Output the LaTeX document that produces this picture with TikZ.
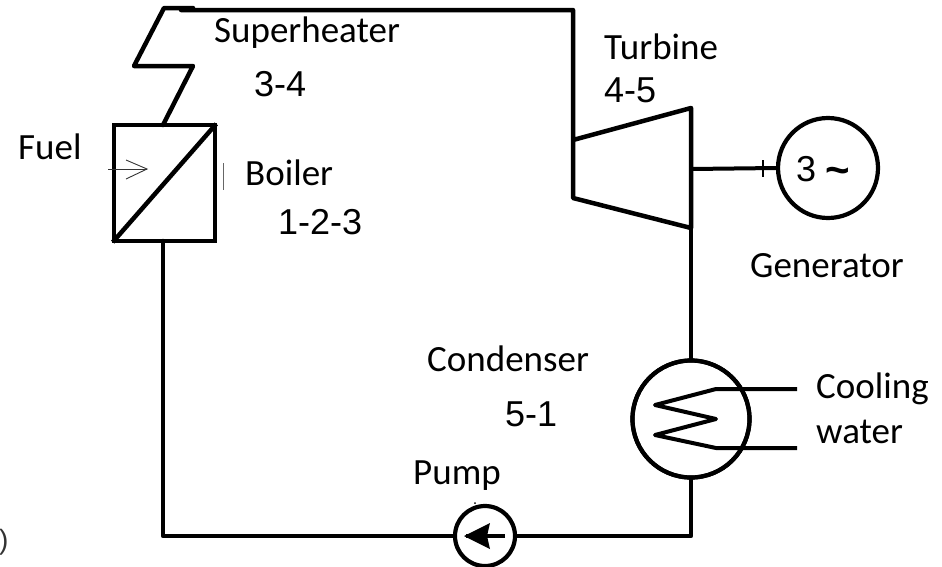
\documentclass[tikz,border=0pt]{standalone}
\usepackage{fontspec}
\setmainfont{Carlito}
\newfontfamily\arial{Liberation Sans}
\usetikzlibrary{arrows.meta}
\tikzset{
  pipe/.style={line width=4.5pt,line cap=round,line join=round},
  thinpipe/.style={line width=4pt,line join=round},
  lbl/.style={inner sep=0pt,font=\fontsize{37}{40}\selectfont,anchor=base west},
  num/.style={inner sep=0pt,font=\arial\fontsize{36}{40}\selectfont,anchor=base west},
  unit/.style={draw,line width=4.2pt,circle,inner sep=0pt,fill=white},
}
\begin{document}
\begin{tikzpicture}[x=1pt,y=-1pt]
\useasboundingbox (0,0) rectangle (942,566);
% coordinates
\coordinate (shA) at (163,125);
\coordinate (shB) at (193,66);
\coordinate (shC) at (134,66);
\coordinate (shD) at (164,8);
\coordinate (shE) at (193,8);
\coordinate (topL) at (181,10);
\coordinate (topR) at (573,10);
\coordinate (tbA) at (573,140);
\coordinate (tbB) at (573,198);
\coordinate (tbC) at (691,108);
\coordinate (tbD) at (691,228);
\coordinate (shaft) at (691,169);
\coordinate (pc) at (691,536);
\coordinate (pl) at (163,536);
\coordinate (cwA) at (797,389);
\coordinate (cwB) at (797,448);
\coordinate (z1) at (716,389);
\coordinate (z2) at (655,405);
\coordinate (z3) at (716,419);
\coordinate (z4) at (655,435);
\coordinate (z5) at (716,448);
% units
\node[draw,line width=4.5pt,minimum width=101pt,minimum height=116pt,inner sep=0pt] (boiler) at (164.5,183) {};
\node[unit,minimum size=117pt] (cond) at (691,419) {};
\node[unit,minimum size=60pt] (pump) at (485,536) {};
\node[unit,minimum size=100pt] (gen) at (828,168) {};
% pipes
\draw[line width=4.5pt,shorten <=1.5pt,shorten >=1.5pt] (boiler.south west) -- (boiler.north east);
\draw[pipe] (shA) -- (shB) -- (shC) -- (shD) -- (shE);
\draw[pipe] (topL) -- (topR) -- (tbB) -- (tbD) -- (tbC) -- (tbA);
\draw[pipe] (tbD) -- (cond.north);
\draw[pipe] (cond.south) -- (pc) -- (pump.east);
\draw[pipe] (pump.west) -- (pl) -- (163,241);
\draw[line width=4pt] (shaft) -- (gen.west);
\draw[line width=1.5pt] (763,160) -- (763,177);
\draw[thinpipe] (cwA) -- (z1) -- (z2) -- (z3) -- (z4) -- (z5) -- (cwB);
\node[unit,minimum size=117pt,fill=none] at (691,419) {};
% pump arrow
\coordinate (pa) at (505,536);
\coordinate (pb) at (466,536);
\draw[line width=3.5pt] (pa) -- (pb);
\fill (464,536) -- (490,523) -- (487,536) -- (490,549) -- cycle;
\fill (475,503) circle (1pt);
% fuel arrow
\coordinate (fa) at (108,169);
\coordinate (fb) at (147,169);
\draw[line width=0.9pt,black!80] (fa) -- (fb);
\draw[line width=0.9pt,black!80] (126,160) -- (fb) -- (126,179);
\draw[line width=0.8pt,black!60] (223,163) -- (223,190);
% labels
\node[lbl] (t1) at (214,42) {Superheater};
\node[num] (t2) at (254,96) {3-4};
\node[lbl] (t3) at (18,159) {Fuel};
\node[lbl] (t4) at (245,185) {Boiler};
\node[num] (t5) at (278,234) {1-2-3};
\node[lbl] (t6) at (604,59) {Turbine};
\node[num] (t7) at (604,102) {4-5};
\node[num] (t8) at (796,181) {3};
\node[inner sep=0pt,font=\arial\bfseries\fontsize{42}{42}\selectfont,anchor=base west] (t9) at (825,184) {\char"007E};
\node[lbl] (t10) at (750,277) {Generator};
\node[lbl] (t11) at (427,371) {Condenser};
\node[num] (t12) at (505,426) {5-1};
\node[lbl] (t13) at (413,484) {Pump};
\node[lbl] (t14) at (816,398) {Cooling};
\node[lbl] (t15) at (816,443) {water};
\node[inner sep=0pt,font=\arial\fontsize{28}{30}\selectfont,text=black!80,anchor=base west] (t16) at (-1,549) {)};
\end{tikzpicture}
\end{document}
